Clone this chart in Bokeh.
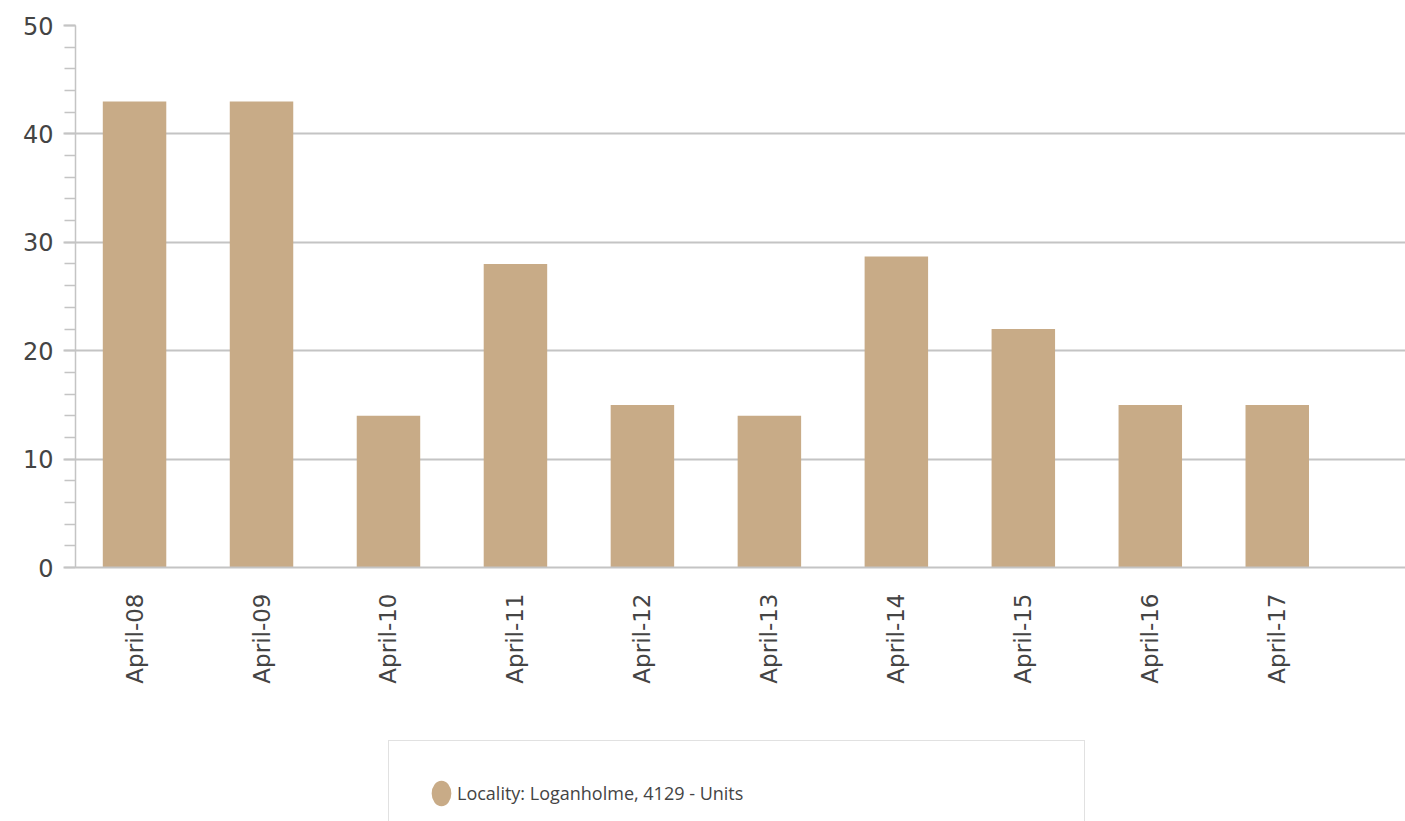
import math
from bokeh.plotting import figure
from bokeh.layouts import column
from bokeh.models import (ColumnDataSource, Range1d, FixedTicker, Legend, LegendItem)
from bokeh.embed import file_html
from bokeh.resources import INLINE

categories = ["April-08", "April-09", "April-10", "April-11", "April-12",
              "April-13", "April-14", "April-15", "April-16", "April-17"]
values = [43, 43, 14, 28, 15, 14, 28.7, 22, 15, 15]
series_name = "Locality: Loganholme, 4129 - Units"
y_ticks = [0, 10, 20, 30, 40, 50]

BAR = "#C8AB87"
GRID = "#C4C4C4"
AXFONT = "DejaVu Sans"
FONT = "Open Sans"
TEXT = "#444444"

xs = list(range(len(categories)))
src = ColumnDataSource(dict(x=xs, top=values, cat=categories))

p = figure(width=1405, height=700, output_backend="svg", toolbar_location=None,
           x_range=Range1d(-0.465, 10.01), y_range=Range1d(0, 50),
           min_border_left=75, min_border_right=0, min_border_top=25,
           min_border_bottom=133)
p.outline_line_color = None

bars = p.vbar(x="x", top="top", width=0.5, source=src, fill_color=BAR,
              line_color=None)

# axes
p.xaxis.ticker = FixedTicker(ticks=xs)
p.xaxis.major_label_overrides = {i: c for i, c in enumerate(categories)}
p.xaxis.major_label_orientation = math.pi / 2
p.xaxis.major_tick_line_color = None
p.xaxis.major_tick_out = 0
p.xaxis.major_tick_in = 0
p.xaxis.minor_tick_line_color = None
p.xaxis.axis_line_color = GRID
p.xaxis.axis_line_width = 2
p.xaxis.major_label_text_font = AXFONT
p.xaxis.major_label_text_font_size = "23px"
p.xaxis.major_label_text_color = TEXT
p.xaxis.major_label_standoff = 26

p.yaxis.ticker = FixedTicker(ticks=y_ticks, minor_ticks=list(range(0, 51, 2)))
p.yaxis.axis_line_color = GRID
p.yaxis.axis_line_width = 1.5
p.yaxis.major_tick_line_color = GRID
p.yaxis.major_tick_line_width = 2
p.yaxis.major_tick_out = 12
p.yaxis.major_tick_in = 0
p.yaxis.minor_tick_line_color = GRID
p.yaxis.minor_tick_line_width = 1.5
p.yaxis.minor_tick_out = 11
p.yaxis.minor_tick_in = 0
p.yaxis.major_label_text_font = AXFONT
p.yaxis.major_label_text_font_size = "24px"
p.yaxis.major_label_text_color = TEXT
p.yaxis.major_label_standoff = 10

p.xgrid.grid_line_color = None
p.ygrid.grid_line_color = GRID
p.ygrid.grid_line_width = 2
p.ygrid.ticker = FixedTicker(ticks=y_ticks)

# legend panel below the chart
q = figure(width=1405, height=121, output_backend="svg", toolbar_location=None,
           x_range=Range1d(0, 1), y_range=Range1d(0, 1),
           x_axis_type=None, y_axis_type=None,
           min_border_left=0, min_border_right=0, min_border_top=0,
           min_border_bottom=0)
q.outline_line_color = None
q.xgrid.grid_line_color = None
q.ygrid.grid_line_color = None
# off-screen swatch used only for the legend glyph
dot = q.ellipse(x=[-5], y=[-5], width=20, height=26, width_units="screen",
                height_units="screen", fill_color=BAR, line_color=None)

legend = Legend(items=[LegendItem(label=series_name, renderers=[dot])],
                location=(313, -25), orientation="vertical",
                padding=36, spacing=0, margin=0,
                glyph_width=32, glyph_height=32,
                label_width=591, label_height=20, label_standoff=0,
                label_text_font=FONT, label_text_font_size="18px",
                label_text_color=TEXT,
                border_line_color=GRID, border_line_width=1.5,
                background_fill_color="white", background_fill_alpha=1.0)
q.add_layout(legend, "center")

layout = column(p, q, spacing=0)
open("out.html", "w").write(file_html(layout, INLINE))
